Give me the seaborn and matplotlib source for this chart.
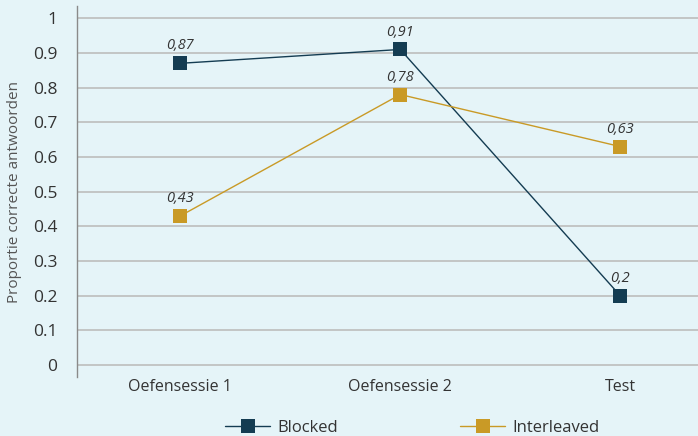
import pandas as pd
import matplotlib.pyplot as plt
import seaborn as sns

# data
sessions = ["Oefensessie 1", "Oefensessie 2", "Test"]
blocked = [0.87, 0.91, 0.20]
interleaved = [0.43, 0.78, 0.63]
labels_blocked = ["0,87", "0,91", "0,2"]
labels_interleaved = ["0,43", "0,78", "0,63"]

df = pd.DataFrame({
    "sessie": sessions * 2,
    "proportie": blocked + interleaved,
    "conditie": ["Blocked"] * 3 + ["Interleaved"] * 3,
})

bg = "#e5f4f8"
colors = {"Blocked": "#143c52", "Interleaved": "#c99a26"}
grid = "#bdbdbd"

sns.set_style("white")
plt.rcParams["font.family"] = ["Open Sans", "DejaVu Sans"]

fig = plt.figure(figsize=(6.98, 4.36), dpi=100, facecolor=bg)
ax = fig.add_axes([0.1103, 0.135, 0.92, 0.851], facecolor=bg)

sns.lineplot(data=df, x="sessie", y="proportie", hue="conditie", style="conditie",
             markers={"Blocked": "s", "Interleaved": "s"}, dashes=False,
             palette=colors, linewidth=1, markersize=10, markeredgewidth=0,
             sort=False, ax=ax, legend=False)

ax.set_ylim(-0.035, 1.035)
ax.set_xlim(-0.47, 2.45)
ax.set_yticks([i / 10 for i in range(11)])
ax.set_yticklabels(["0", "0.1", "0.2", "0.3", "0.4", "0.5", "0.6", "0.7", "0.8", "0.9", "1"])
ax.yaxis.grid(True, color=grid, linewidth=1.2)
ax.set_axisbelow(True)
for s in ["top", "right", "bottom"]:
    ax.spines[s].set_visible(False)
ax.spines["left"].set_color("#8a8a8a")
ax.spines["left"].set_linewidth(1)
ax.tick_params(axis="y", length=10, color=grid, width=1.2, labelsize=12.5, labelcolor="#333333", pad=4)
ax.tick_params(axis="x", length=0, labelsize=11.5, labelcolor="#333333", pad=1)
ax.set_xlabel("")
ax.set_ylabel("Proportie correcte antwoorden", fontsize=11, color="#555555", labelpad=8)

for i, (v, t) in enumerate(zip(blocked, labels_blocked)):
    ax.annotate(t, (i, v), xytext=(0, 10), textcoords="offset points", ha="center",
                fontsize=10.5, style="italic", color="#333333")
for i, (v, t) in enumerate(zip(interleaved, labels_interleaved)):
    ax.annotate(t, (i, v), xytext=(0, 10), textcoords="offset points", ha="center",
                fontsize=10.5, style="italic", color="#333333")

handles = [plt.Line2D([], [], color=colors[k], marker="s", markersize=10,
                      markeredgewidth=0, linewidth=1) for k in ["Blocked", "Interleaved"]]
fig.legend(handles, ["Blocked", "Interleaved"], loc="lower center", ncol=2,
           bbox_to_anchor=(0.591, -0.035), frameon=False, fontsize=12,
           handlelength=2.7, handletextpad=0.45, columnspacing=7.3, labelcolor="#333333")

fig.savefig("out.png", dpi=100, facecolor=bg)
